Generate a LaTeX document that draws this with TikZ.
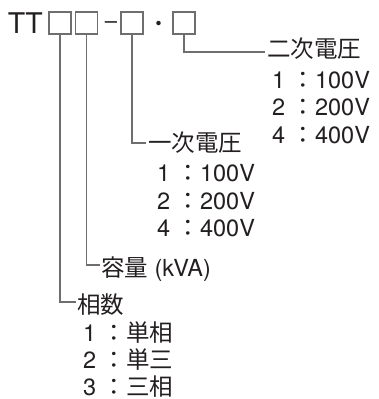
\documentclass[tikz,border=0pt]{standalone}
\usepackage{fontspec}
\setmainfont{TeX Gyre Heros}
\newfontfamily\jp{Noto Sans CJK JP}
\definecolor{txt}{HTML}{231F20}
\definecolor{ln}{HTML}{6E6E6E}
\tikzset{
  lbl/.style={anchor=base west, inner sep=0pt, outer sep=0pt, text=txt,
    font=\fontsize{23.5}{23.5}\selectfont},
  hdr/.style={anchor=base west, inner sep=0pt, outer sep=0pt, text=txt,
    font=\fontsize{28.5}{28.5}\selectfont},
  codebox/.style={draw=ln, line width=1.2pt, minimum size=22pt, inner sep=0pt, outer sep=0pt},
  conn/.style={draw=ln, line width=1.2pt},
}
\newcommand\optrow[2]{#1 {\jp ：}#2}
\begin{document}
\begin{tikzpicture}[x=1pt,y=-1pt]
\useasboundingbox (0,0) rectangle (379,399);
% header
\node[hdr] (tt) at (8,33) {TT};
\node[codebox] (b1) at (60,23) {};
\node[codebox] (b2) at (86.5,23) {};
\node[anchor=base, inner sep=0pt, text=txt, font=\fontsize{22}{22}\selectfont] (dash) at (111,28) {–};
\node[codebox] (b3) at (132,23) {};
\node[anchor=base, inner sep=0pt, text=txt, font=\jp\fontsize{21}{21}\selectfont] (dot) at (159,31) {・};
\node[codebox] (b4) at (184,23) {};
% secondary voltage
\coordinate (e4) at (265,52);
\draw[conn] (b4.south) |- (e4);
\node[lbl] (l4) at (267,57) {\jp 二次電圧};
\node[lbl] (l4a) at (272,88) {\optrow{1}{100V}};
\node[lbl] (l4b) at (272,115.5) {\optrow{2}{200V}};
\node[lbl] (l4c) at (272,143) {\optrow{4}{400V}};
% primary voltage
\coordinate (e3) at (146,143);
\draw[conn] (b3.south) |- (e3);
\node[lbl] (l3) at (148,151) {\jp 一次電圧};
\node[lbl] (l3a) at (157,181.5) {\optrow{1}{100V}};
\node[lbl] (l3b) at (157,209) {\optrow{2}{200V}};
\node[lbl] (l3c) at (157,236.5) {\optrow{4}{400V}};
% capacity
\coordinate (e2) at (100,265);
\draw[conn] (b2.south) |- (e2);
\node[lbl] (l2) at (101,276) {{\jp 容量} (kVA)};
% phases
\coordinate (e1) at (76,302);
\draw[conn] (b1.south) |- (e1);
\node[lbl] (l1) at (77,313.5) {\jp 相数};
\node[lbl] (l1a) at (83,341) {\optrow{1}{\jp 単相}};
\node[lbl] (l1b) at (83,368) {\optrow{2}{\jp 単三}};
\node[lbl] (l1c) at (83,395) {\optrow{3}{\jp 三相}};
\end{tikzpicture}
\end{document}
